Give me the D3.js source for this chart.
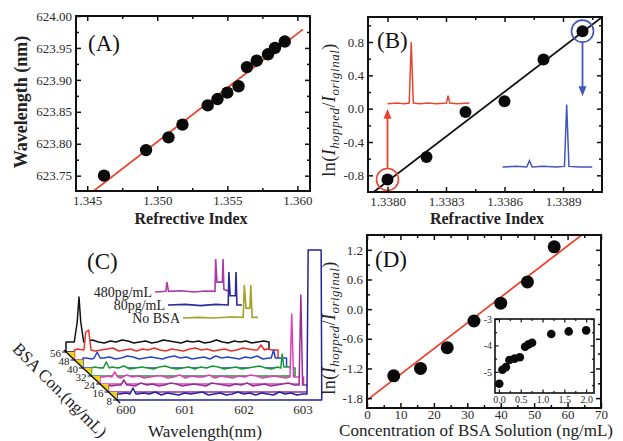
<!DOCTYPE html>
<html>
<head>
<meta charset="utf-8">
<script src="https://cdn.jsdelivr.net/npm/d3@7"></script>
<style>
  body { margin: 0; background: #fff; }
  svg { display: block; font-family: "Liberation Serif", "Times New Roman", serif; }
</style>
</head>
<body>
<svg id="fig" width="623" height="441"></svg>
<script>
// ---------- panel A : resonance wavelength vs refractive index
const refA = [1.3462, 1.3492, 1.3508, 1.3518, 1.3536, 1.3543, 1.3550, 1.3558, 1.3564, 1.3571, 1.3579, 1.3584, 1.3591];
const wlA  = [623.75, 623.79, 623.81, 623.83, 623.86, 623.87, 623.88, 623.89, 623.92, 623.93, 623.94, 623.95, 623.96];

// ---------- panel B : ln(I hopped / I original) vs refractive index
const refB = [1.3380, 1.3382, 1.3384, 1.3386, 1.3388, 1.3390];
const lnB  = [-0.85, -0.58, -0.04, 0.09, 0.59, 0.93];
// small spectra drawn inside B (relative wavelength 0..1, relative intensity 0..1)
const specLowRI  = [[0, 0], [0.12, 0.01], [0.2, 0], [0.265, 0.01], [0.29, 1], [0.315, 0.01], [0.4, 0], [0.5, 0.01], [0.6, 0], [0.72, 0.01], [0.74, 0.13], [0.76, 0.01], [0.85, 0], [1, 0.01]];
const specHighRI = [[0, 0], [0.15, 0.01], [0.27, 0], [0.3, 0.1], [0.33, 0], [0.45, 0.01], [0.6, 0], [0.69, 0.01], [0.715, 1], [0.74, 0.01], [0.85, 0], [1, 0]];

// ---------- panel C : waterfall spectra for BSA concentrations
const concC  = [56, 48, 40, 32, 24, 16, 8];
const colorC = ["#111111", "#e8322a", "#2a44c8", "#18973a", "#e040b4", "#9a2c96", "#23239a"];
const baseC  = [10, 10, 10, 8, 7, 7, 6];
const endC   = [603.44, 603.45, 603.45, 603.45, 603.45, 603.45, 603.47];
const rippleC = [
  [0, 1, -1, 1, 2, 0, -1, 1, 0, 2, 1, -1, 0, 1, -1, 0, 2, 1, 0, -1, 1, 0, 1, -1, 0, 2, 0, -1, 1, 0, 1, -1, 0, 1],
  [1, 0, 1, -1, 0, 1, 2, -1, 0, 1, -1, 1, 0, 2, 0, -1, 1, 0, -1, 1, 2, 0, 1, -1, 0, 1, -1, 0, 2, 1, 0, -1, 1, 0],
  [0, -1, 1, 0, 1, -1, 0, 2, 1, -1, 0, 1, 0, -1, 1, 2, 0, 1, -1, 0, 1, -1, 2, 0, 1, 0, -1, 1, 0, 2, -1, 0, 1, 0],
  [1, 0, -1, 1, 0, 2, -1, 0, 1, 0, -1, 1, 2, 0, -1, 0, 1, -1, 1, 0, 2, 1, -1, 0, 1, -1, 0, 1, 2, 0, -1, 1, 0, 1],
  [0, 1, 0, -1, 2, 0, 1, -1, 0, 1, 1, -1, 0, 2, -1, 1, 0, 0, 2, -1, 1, 0, -1, 1, 0, 2, 1, -1, 0, 1, 0, -1, 1, 0],
  [-1, 0, 1, 0, -1, 2, 0, 1, -1, 0, 2, 1, -1, 0, 1, 0, -1, 2, 1, 0, -1, 1, 0, 2, -1, 0, 1, -1, 0, 1, 2, 0, -1, 0],
  [0, 1, -1, 0, 1, 0, 2, -1, 1, 0, -1, 1, 0, 1, 2, -1, 0, 1, -1, 0, 2, 0, 1, -1, 1, 0, -1, 2, 0, 1, -1, 0, 1, 0]
];
// peaks of each trace: [wavelength nm, counts]
const peaksC = [
  [[[600.14, 10], [600.19, 30], [600.22, 55], [600.25, 30], [600.30, 10]]],
  [[[600.16, 10], [600.19, 28], [600.24, 30], [600.28, 10]], [[603.10, 10], [603.16, 15], [603.22, 10]]],
  [[[600.19, 10], [600.24, 16], [600.29, 10]], [[603.19, 10], [603.23, 18], [603.26, 10]]],
  [[[600.20, 8], [600.25, 14], [600.30, 8]], [[603.21, 8], [603.23, 22], [603.26, 9]]],
  [[[600.20, 7], [600.25, 12], [600.30, 7]], [[603.22, 7], [603.25, 70], [603.28, 7]]],
  [[[600.21, 7], [600.26, 12], [600.31, 7]], [[603.23, 7], [603.26, 97], [603.29, 7]]],
  [[[600.22, 6], [600.27, 12], [600.32, 6]], [[603.22, 6], [603.24, 150], [603.46, 150]]]
];
// the three small reference spectra above the waterfall
const legendNames  = ["480pg/mL", "80pg/mL", "No BSA"];
const legendColors = ["#a93aa8", "#2a2a9c", "#a3a326"];
const legendSpectra = [
  [[600, 0], [600.5, 0.02], [600.55, 0.3], [600.62, 0.02], [601.2, 0.04], [601.8, 0], [602.3, 0.03], [602.76, 0.02], [602.79, 1], [602.85, 0.3], [603.1, 0.3], [603.13, 1], [603.17, 0.08], [603.36, 0.03]],
  [[600, 0], [600.8, 0.02], [601.5, -0.02], [602.2, 0.02], [602.77, 0], [602.8, 1], [602.86, 0.28], [603.1, 0.28], [603.13, 1], [603.17, 0], [603.4, 0]],
  [[600, 0], [600.7, 0.02], [601.4, 0], [602.2, 0.03], [602.77, 0.02], [602.82, 1], [602.9, 0.3], [603.08, 0.3], [603.12, 1], [603.18, 0.02], [603.45, 0.02]]
];

// ---------- panel D : ln ratio vs BSA concentration
const concD = [8, 16, 24, 32, 40, 48, 56];
const lnD   = [-1.35, -1.2, -0.78, -0.24, 0.12, 0.55, 1.26];
const fitD  = [-1.84, 0.052];          // intercept, slope of the red line
const concInset = [0.008, 0.08, 0.16, 0.24, 0.36, 0.48, 0.60, 0.68, 0.76, 1.2, 1.6, 2.0];
const lnInset   = [-5.45, -4.92, -4.82, -4.55, -4.5, -4.45, -4.05, -3.96, -3.9, -3.57, -3.47, -3.43];

const svg = d3.select("#fig");
svg.append("rect").attr("width", 623).attr("height", 441).attr("fill", "#fff");
const serif = '"Liberation Serif", "Times New Roman", serif';
const RED = "#e8452e", BLUE = "#4455bb";

function lineFit(xs, ys) {
  const mx = d3.mean(xs), my = d3.mean(ys);
  const b = d3.sum(xs, (x, i) => (x - mx) * (ys[i] - my)) / d3.sum(xs, x => (x - mx) ** 2);
  return [my - b * mx, b];
}

// boxed frame with inward ticks on all four sides
function boxAxes(g, x, y, o) {
  const [xa, xb] = x.range(), [yb, yt] = y.range();
  const add = (axis, tr, vals, size, fmt, pad) => g.append("g").attr("transform", tr)
    .call(axis.tickValues(vals).tickSize(-size).tickSizeOuter(0).tickPadding(pad || 4).tickFormat(fmt || (() => "")))
    .call(a => a.select(".domain").remove());
  add(d3.axisBottom(x), `translate(0,${yb})`, o.xMajor, o.tick, o.xFmt, o.xPad);
  add(d3.axisBottom(x), `translate(0,${yb})`, o.xMinor, o.tick * 0.6);
  add(d3.axisTop(x), `translate(0,${yt})`, o.xMajor, o.tick);
  add(d3.axisTop(x), `translate(0,${yt})`, o.xMinor, o.tick * 0.6);
  add(d3.axisLeft(y), `translate(${xa},0)`, o.yMajor, o.tick, o.yFmt, o.yPad);
  add(d3.axisLeft(y), `translate(${xa},0)`, o.yMinor, o.tick * 0.6);
  add(d3.axisRight(y), `translate(${xb},0)`, o.yMajor, o.tick);
  add(d3.axisRight(y), `translate(${xb},0)`, o.yMinor, o.tick * 0.6);
  g.selectAll(".tick line").attr("stroke", "#111").attr("stroke-width", o.tw || 1.5);
  g.selectAll(".tick text").attr("font-family", serif).attr("font-size", o.fs).attr("fill", "#2a2a2a");
  g.append("rect").attr("x", xa).attr("y", yt).attr("width", xb - xa).attr("height", yb - yt)
    .attr("fill", "none").attr("stroke", "#111").attr("stroke-width", o.bw || 2);
}

function clip(id, x, y) {
  const [xa, xb] = x.range(), [yb, yt] = y.range();
  svg.append("clipPath").attr("id", id).append("rect")
    .attr("x", xa).attr("y", yt).attr("width", xb - xa).attr("height", yb - yt);
  return `url(#${id})`;
}

function lnLabel(x, y) {
  const t = svg.append("text").attr("transform", `translate(${x},${y}) rotate(-90)`)
    .attr("text-anchor", "middle").attr("font-size", 18).attr("fill", "#222").attr("letter-spacing", 0.5);
  t.append("tspan").text("ln(");
  t.append("tspan").attr("font-style", "italic").text("I");
  t.append("tspan").attr("font-style", "italic").attr("font-size", 13).attr("dy", 4).text("hopped");
  t.append("tspan").attr("dy", -4).text("/");
  t.append("tspan").attr("font-style", "italic").text("I");
  t.append("tspan").attr("font-style", "italic").attr("font-size", 13).attr("dy", 4).text("original");
  t.append("tspan").attr("dy", -4).text(")");
}

const fix = n => d => d.toFixed(n);

// ================= panel A
{
  const x = d3.scaleLinear([1.3442, 1.3609], [76, 310]);
  const y = d3.scaleLinear([623.726, 624.0], [191, 16]);
  const g = svg.append("g");
  const [a, b] = lineFit(refA, wlA);
  g.append("path").attr("clip-path", clip("clipA", x, y))
    .datum([1.3450, 1.3604].map(v => [v, a + b * v]))
    .attr("d", d3.line().x(d => x(d[0])).y(d => y(d[1])))
    .attr("stroke", RED).attr("stroke-width", 1.8).attr("fill", "none");
  g.selectAll("circle").data(refA).join("circle")
    .attr("cx", d => x(d)).attr("cy", (d, i) => y(wlA[i])).attr("r", 6.2).attr("fill", "#0a0a0a");
  boxAxes(g, x, y, {
    xMajor: [1.345, 1.350, 1.355, 1.360], xMinor: [1.3475, 1.3525, 1.3575], xFmt: fix(3), xPad: 5,
    yMajor: [623.75, 623.80, 623.85, 623.90, 623.95, 624.00], yMinor: [623.775, 623.825, 623.875, 623.925, 623.975],
    yFmt: fix(2), yPad: 4, tick: 5, fs: 13
  });
  svg.append("text").attr("x", 88).attr("y", 51).attr("font-size", 23).attr("fill", "#111").text("(A)");
  svg.append("text").attr("transform", "translate(27,102) rotate(-90)").attr("text-anchor", "middle")
    .attr("font-size", 18).attr("font-weight", "bold").attr("fill", "#222").text("Wavelength (nm)");
  svg.append("text").attr("x", 191).attr("y", 224).attr("text-anchor", "middle")
    .attr("font-size", 16).attr("font-weight", "bold").attr("fill", "#222").text("Refrective Index");
}

// ================= panel B
{
  const x = d3.scaleLinear([1.3379, 1.3391], [368, 602]);
  const y = d3.scaleLinear([-1.0, 1.1], [192, 17]);
  const g = svg.append("g");
  const [a, b] = lineFit(refB, lnB);
  g.append("path").attr("clip-path", clip("clipB", x, y))
    .datum(x.domain().map(v => [v, a + b * v]))
    .attr("d", d3.line().x(d => x(d[0])).y(d => y(d[1])))
    .attr("stroke", "#111").attr("stroke-width", 1.8).attr("fill", "none");

  // small spectra inside the plot
  const drawSpec = (spec, x0, x1, yBase, yTop, color) => {
    const sx = d3.scaleLinear([0, 1], [x(x0), x(x1)]);
    const sy = d3.scaleLinear([0, 1], [y(yBase), y(yTop)]);
    g.append("path").datum(spec).attr("d", d3.line().x(d => sx(d[0])).y(d => sy(d[1])))
      .attr("fill", "none").attr("stroke", color).attr("stroke-width", 1.5);
  };
  drawSpec(specLowRI, 1.3380, 1.33842, 0.06, 0.80, RED);
  drawSpec(specHighRI, 1.33859, 1.33905, -0.70, 0.05, BLUE);

  // arrows from the circled points
  const arrow = (xv, yFrom, yTo, color) => {
    const dir = Math.sign(yTo - yFrom);
    g.append("line").attr("x1", xv).attr("x2", xv).attr("y1", yFrom).attr("y2", yTo - dir * 9)
      .attr("stroke", color).attr("stroke-width", 1.8);
    g.append("path").attr("d", `M${xv},${yTo}L${xv - 4},${yTo - dir * 10}L${xv + 4},${yTo - dir * 10}Z`).attr("fill", color);
  };
  arrow(x(refB[0]), y(lnB[0]) - 11, y(0.0), RED);
  arrow(x(refB[5]), y(lnB[5]) + 11, y(0.15), BLUE);

  g.selectAll(".pt").data(refB).join("circle").attr("class", "pt")
    .attr("cx", d => x(d)).attr("cy", (d, i) => y(lnB[i])).attr("r", 6).attr("fill", "#0a0a0a");
  g.append("circle").attr("cx", x(refB[0])).attr("cy", y(lnB[0])).attr("r", 11)
    .attr("fill", "none").attr("stroke", RED).attr("stroke-width", 1.6);
  g.append("circle").attr("cx", x(refB[5])).attr("cy", y(lnB[5])).attr("r", 11)
    .attr("fill", "none").attr("stroke", BLUE).attr("stroke-width", 1.6);

  boxAxes(g, x, y, {
    xMajor: [1.3380, 1.3383, 1.3386, 1.3389], xMinor: [1.33815, 1.33845, 1.33875, 1.33905], xFmt: fix(4), xPad: 5,
    yMajor: [-0.8, -0.4, 0, 0.4, 0.8], yMinor: [-0.6, -0.2, 0.2, 0.6, 1.0], yFmt: fix(1), yPad: 4, tick: 5, fs: 13
  });
  svg.append("text").attr("x", 377).attr("y", 48).attr("font-size", 23).attr("fill", "#111").text("(B)");
  lnLabel(335, 110);
  svg.append("text").attr("x", 487).attr("y", 224).attr("text-anchor", "middle")
    .attr("font-size", 16).attr("font-weight", "bold").attr("fill", "#222").text("Refractive Index");
}

// ================= panel C
{
  const wl = d3.scaleLinear([600, 603], [125.5, 302.5]);   // wavelength along the front
  const zx = d3.scaleLinear([0, 56], [0, -59.5]);          // depth shift (x)
  const zy = d3.scaleLinear([0, 56], [408, 352]);          // floor of each trace (y)
  const inten = d3.scaleLinear([0, 150], [0, 150]);        // counts -> height
  const g = svg.append("g");

  concC.forEach((c, i) => {
    const feats = peaksC[i];
    let pts = [[600, 0], [600, baseC[i]]];
    rippleC[i].forEach((r, k) => pts.push([600.05 + 0.1 * k, baseC[i] + r]));
    pts = pts.filter(p => p[0] === 600 ||
      !feats.some(f => p[0] >= f[0][0] && p[0] <= f[f.length - 1][0]));
    feats.forEach(f => pts.push(...f));
    pts.push([endC[i], baseC[i]]);
    pts.sort((p, q) => p[0] - q[0]);
    pts.push([endC[i], 0]);
    const line = d3.line().x(p => wl(p[0]) + zx(c)).y(p => zy(c) - inten(p[1]));
    g.append("path").datum(pts).attr("d", d => line(d) + "Z")
      .attr("fill", "#fff").attr("stroke", colorC[i]).attr("stroke-width", 1.5).attr("stroke-linejoin", "round");
  });

  // yellow side wall between the trace starts
  concC.slice(0, -1).forEach((c, i) => {
    const n = concC[i + 1];
    const p1 = [wl(600) + zx(c), zy(c)], p2 = [wl(600) + zx(n), zy(n)];
    g.append("path").attr("d", `M${p1}L${p2}L${p2[0]},${p1[1]}Z`).attr("fill", "#ecd41e");
  });

  // depth axis
  g.append("line").attr("x1", wl(600) + zx(58)).attr("y1", zy(58))
    .attr("x2", wl(600) + zx(5)).attr("y2", zy(5)).attr("stroke", "#111").attr("stroke-width", 1.3);
  concC.forEach(c => {
    const px = wl(600) + zx(c), py = zy(c);
    g.append("line").attr("x1", px).attr("x2", px - 4).attr("y1", py).attr("y2", py).attr("stroke", "#111");
    g.append("text").attr("x", px - 5).attr("y", py + 5).attr("text-anchor", "end")
      .attr("font-size", 11).attr("fill", "#222").text(c);
  });
  svg.append("text").attr("transform", "translate(60,390) rotate(45)").attr("text-anchor", "middle")
    .attr("dy", "0.35em").attr("font-size", 17).attr("fill", "#222").text("BSA Con.(ng/mL)");

  // wavelength tick labels along the front
  g.append("g").attr("transform", "translate(0,404)")
    .call(d3.axisBottom(wl).tickValues([600, 601, 602, 603]).tickSize(0).tickPadding(1).tickFormat(d => d))
    .call(a => a.select(".domain").remove())
    .selectAll("text").attr("font-family", serif).attr("font-size", 13).attr("fill", "#2a2a2a");
  svg.append("text").attr("x", 205).attr("y", 437).attr("text-anchor", "middle")
    .attr("font-size", 17).attr("fill", "#222").text("Wavelength(nm)");

  // reference spectra
  const lx = d3.scaleLinear([600, 603.45], [0, 75]);
  const ly = d3.scaleLinear([0, 1], [0, -33]);
  const origins = [[155, 292], [168, 305], [183, 318]];
  legendSpectra.forEach((s, i) => {
    const [ox, oy] = origins[i];
    g.append("path").datum(s).attr("d", d3.line().x(d => ox + lx(d[0])).y(d => oy + ly(d[1])))
      .attr("fill", "none").attr("stroke", legendColors[i]).attr("stroke-width", 1.6);
    g.append("text").attr("x", ox - 3).attr("y", oy + 5).attr("text-anchor", "end")
      .attr("font-size", 14).attr("fill", "#222").text(legendNames[i]);
  });
  svg.append("text").attr("x", 87).attr("y", 269).attr("font-size", 23).attr("fill", "#111").text("(C)");
}

// ================= panel D
{
  const x = d3.scaleLinear([0, 70], [367, 601]);
  const y = d3.scaleLinear([-2.0, 1.5], [408, 235]);
  const g = svg.append("g");
  g.append("path").attr("clip-path", clip("clipD", x, y))
    .datum(x.domain().map(v => [v, fitD[0] + fitD[1] * v]))
    .attr("d", d3.line().x(d => x(d[0])).y(d => y(d[1])))
    .attr("stroke", RED).attr("stroke-width", 1.8).attr("fill", "none");
  g.selectAll("circle").data(concD).join("circle")
    .attr("cx", d => x(d)).attr("cy", (d, i) => y(lnD[i])).attr("r", 6.5).attr("fill", "#0a0a0a");
  boxAxes(g, x, y, {
    xMajor: d3.range(0, 71, 10), xMinor: d3.range(5, 70, 10), xFmt: d => d, xPad: 2,
    yMajor: [-1.8, -1.2, -0.6, 0, 0.6, 1.2], yMinor: [-1.5, -0.9, -0.3, 0.3, 0.9], yFmt: fix(1), yPad: 4,
    tick: 5, fs: 13
  });

  // inset
  const xi = d3.scaleLinear([-0.09, 2.18], [495, 594]);
  const yi = d3.scaleLinear([-5.8, -3.0], [393, 319]);
  const gi = svg.append("g");
  gi.append("rect").attr("x", 495).attr("y", 319).attr("width", 99).attr("height", 74).attr("fill", "#fff");
  gi.selectAll("circle").data(concInset).join("circle")
    .attr("cx", d => xi(d)).attr("cy", (d, i) => yi(lnInset[i])).attr("r", 4.3).attr("fill", "#0a0a0a");
  boxAxes(gi, xi, yi, {
    xMajor: [0, 0.5, 1, 1.5, 2], xMinor: [0.25, 0.75, 1.25, 1.75], xFmt: fix(1), xPad: 3,
    yMajor: [-5, -4, -3], yMinor: [-5.5, -4.5, -3.5], yFmt: d => d, yPad: 3,
    tick: 3.5, fs: 10, tw: 1.2, bw: 1.6
  });

  svg.append("text").attr("x", 375).attr("y", 267).attr("font-size", 23).attr("fill", "#111").text("(D)");
  lnLabel(335, 328);
  svg.append("text").attr("x", 476).attr("y", 436).attr("text-anchor", "middle")
    .attr("font-size", 17).attr("fill", "#222").text("Concentration of BSA Solution (ng/mL)");
}
</script>
</body>
</html>
